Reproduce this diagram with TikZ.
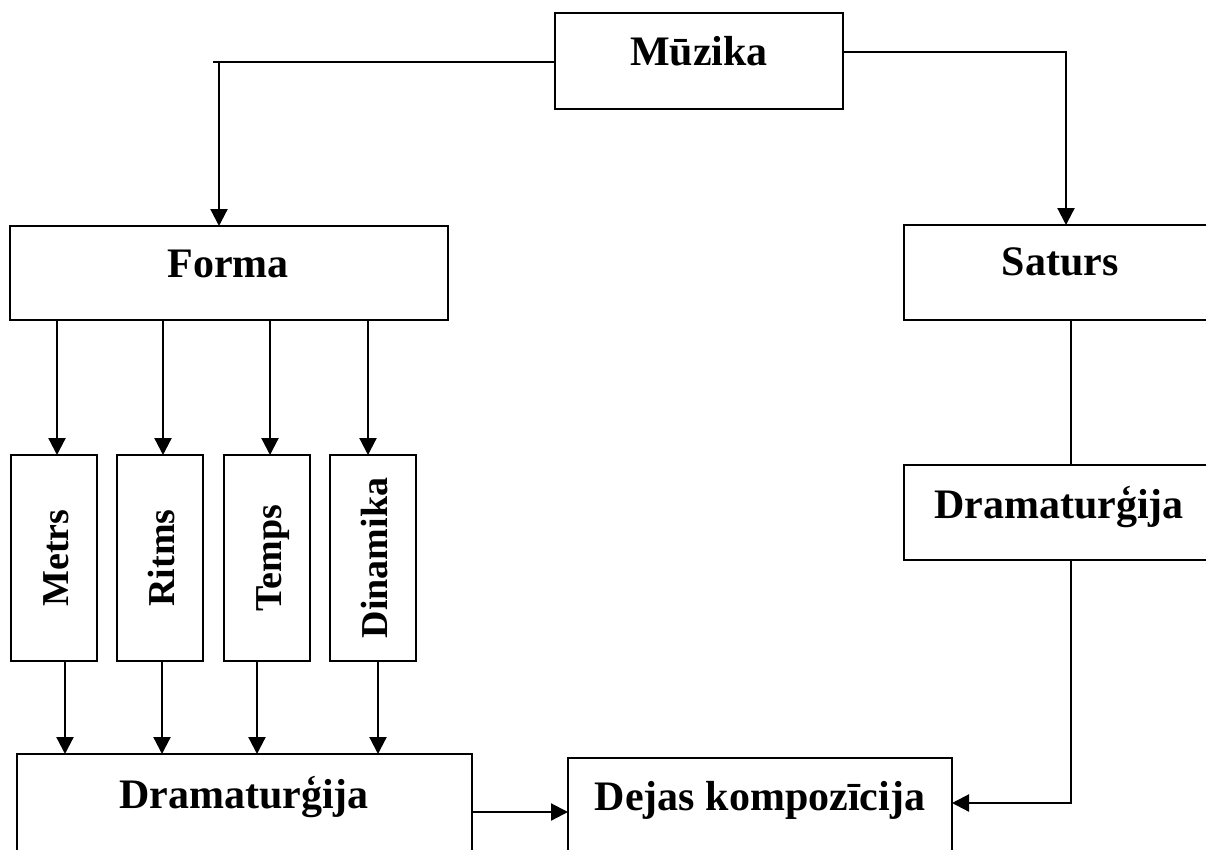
\documentclass[tikz,border=0pt]{standalone}
\usepackage{fontspec}
\setmainfont{Liberation Serif}
\usetikzlibrary{arrows.meta}
\begin{document}
\begin{tikzpicture}[x=1pt,y=-1pt,
  box/.style={draw, line width=2.2pt, inner sep=0pt, outer sep=0pt},
  lbl/.style={anchor=base, inner sep=0pt, font=\fontsize{42}{50}\selectfont\bfseries},
  vlbl/.style={anchor=base, rotate=90, inner sep=0pt, font=\fontsize{38}{45}\selectfont\bfseries},
  conn/.style={line width=2.2pt},
  arr/.style={conn, -{Triangle[width=17pt,length=17pt]}}]
\useasboundingbox (0,0) rectangle (1206,849);
\clip (0,0) rectangle (1206,849);
\fill[white] (0,0) rectangle (1206,849);

% boxes
\node[box, minimum width=288pt, minimum height=96pt] (muzika) at (699,61) {};
\node[box, minimum width=438pt, minimum height=94pt] (forma) at (229,273) {};
\node[box, minimum width=312pt, minimum height=95pt] (saturs) at (1060,272.5) {};
\node[box, minimum width=312pt, minimum height=95pt] (dram2) at (1060,512.5) {};
\node[box, minimum width=86pt, minimum height=206pt] (metrs) at (54,558) {};
\node[box, minimum width=86pt, minimum height=206pt] (ritms) at (160,558) {};
\node[box, minimum width=86pt, minimum height=206pt] (temps) at (267,558) {};
\node[box, minimum width=86pt, minimum height=206pt] (dinamika) at (373,558) {};
\node[box, minimum width=455pt, minimum height=146pt] (dram1) at (244.5,827) {};
\node[box, minimum width=384pt, minimum height=142pt] (dejas) at (760,829) {};

% labels
\node[lbl] (tmuzika) at (699,65) {Mūzika};
\node[lbl] (tforma) at (228,277) {Forma};
\node[lbl] (tsaturs) at (1060,275) {Saturs};
\node[lbl] (tdram2) at (1059,518) {Dramaturģija};
\node[lbl] (tdram1) at (244,808) {Dramaturģija};
\node[lbl] (tdejas) at (760,810) {Dejas kompozīcija};
\node[vlbl] (tmetrs) at (68,558) {Metrs};
\node[vlbl] (tritms) at (174,558) {Ritms};
\node[vlbl] (ttemps) at (281,558) {Temps};
\node[vlbl] (tdinamika) at (387,558) {Dinamika};

% connectors
\coordinate (kL) at (219,62);
\coordinate (kLx) at (213,62);
\draw[conn] (muzika.west |- kL) -- (kLx);
\draw[arr] (kL) -- (forma.north -| kL);

\coordinate (kR) at (1066,52);
\draw[arr] (muzika.east |- kR) -- (kR) -- (saturs.north -| kR);

\foreach \n/\x in {metrs/57, ritms/163, temps/270, dinamika/368} {
  \coordinate (tx) at (\x,0);
  \draw[arr] (forma.south -| tx) -- (\n.north -| tx);
}
\foreach \n/\x in {metrs/65, ritms/162, temps/257, dinamika/378} {
  \coordinate (bx) at (\x,0);
  \draw[arr] (\n.south -| bx) -- (dram1.north -| bx);
}

\coordinate (kV) at (1071,803);
\draw[conn] (saturs.south -| kV) -- (dram2.north -| kV);
\draw[arr] (dram2.south -| kV) -- (kV) -- (dejas.east |- kV);

\coordinate (kB) at (0,812);
\draw[arr] (dram1.east |- kB) -- (dejas.west |- kB);
\end{tikzpicture}
\end{document}
